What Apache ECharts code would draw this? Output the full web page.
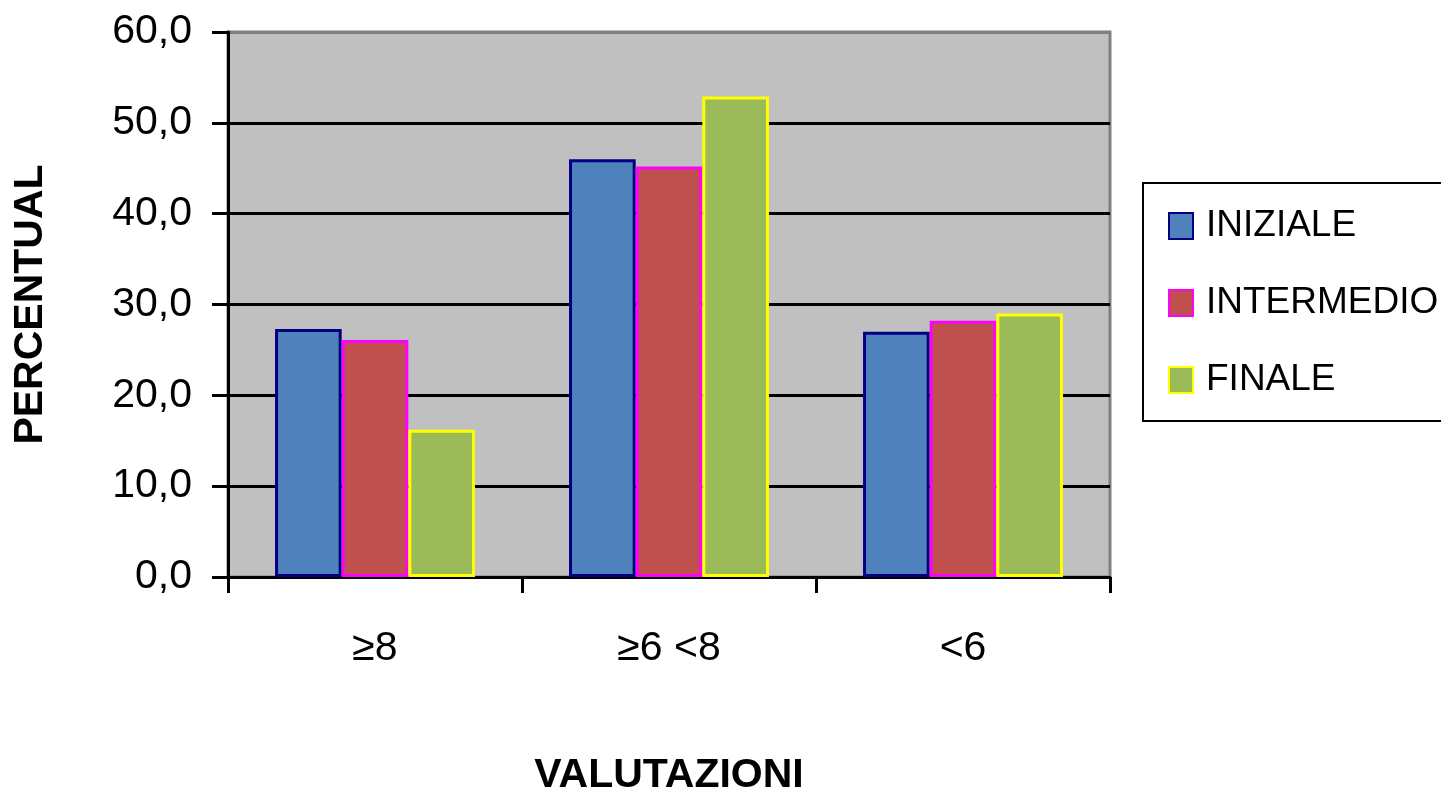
<!DOCTYPE html>
<html>
<head>
<meta charset="utf-8">
<script src="https://cdn.jsdelivr.net/npm/echarts@6/dist/echarts.min.js"></script>
<style>html,body{margin:0;padding:0;background:#fff;}#c{width:1441px;height:797px;}</style>
</head>
<body>
<div id="c"></div>
<script>
var categories = ['≥8', '≥6 <8', '<6'];
var seriesNames = ['INIZIALE', 'INTERMEDIO', 'FINALE'];
var iniziale = [27.3, 46.0, 27.0];
var intermedio = [26.1, 45.2, 28.2];
var finale = [16.2, 52.9, 29.0];
var yTicks = [0, 10, 20, 30, 40, 50, 60];

var fills = ['#4F81BD', '#C0504D', '#9BBB59'];
var borders = ['#000080', '#FF00FF', '#FFFF00'];
var values = [iniziale, intermedio, finale];
var font = '"Liberation Sans", Arial, sans-serif';

var chart = echarts.init(document.getElementById('c'));
chart.setOption({
  animation: false,
  backgroundColor: '#fff',
  grid: {
    left: 228, right: 331, top: 32, bottom: 220,
    containLabel: false,
    outerBoundsMode: 'none',
    show: true, backgroundColor: '#C0C0C0', borderColor: '#808080', borderWidth: 3
  },
  legend: {
    orient: 'vertical',
    left: 1143, top: 183,
    padding: [22, 60, 20, 25],
    itemWidth: 24, itemHeight: 26, itemGap: 35,
    borderColor: '#000', borderWidth: 2,
    backgroundColor: '#fff',
    icon: 'rect',
    textStyle: { fontFamily: font, fontSize: 37, lineHeight: 42, color: '#000', padding: [0, 0, 0, 8] },
    data: seriesNames
  },
  xAxis: {
    type: 'category',
    data: categories,
    name: 'VALUTAZIONI',
    nameLocation: 'middle',
    nameGap: 178,
    nameTextStyle: { fontFamily: font, fontSize: 41, fontWeight: 'bold', color: '#000' },
    axisLine: { lineStyle: { color: '#000', width: 3 } },
    axisTick: { show: true, length: 16, lineStyle: { color: '#000', width: 3 } },
    axisLabel: { fontFamily: font, fontSize: 41, color: '#000', margin: 51 }
  },
  yAxis: {
    type: 'value',
    min: 0, max: 60, interval: 10,
    name: 'PERCENTUAL',
    nameLocation: 'middle',
    nameGap: 177,
    nameTextStyle: { fontFamily: font, fontSize: 41, fontWeight: 'bold', color: '#000' },
    axisLine: { show: true, lineStyle: { color: '#000', width: 3 } },
    axisTick: { show: true, length: 16, lineStyle: { color: '#000', width: 3 } },
    axisLabel: {
      fontFamily: font, fontSize: 41, color: '#000', margin: 36,
      formatter: function (v) { return yTicks.indexOf(v) >= 0 ? v.toFixed(1).replace('.', ',') : ''; }
    },
    splitLine: { show: true, lineStyle: { color: ['#000', '#000', '#000', '#000', '#000', '#000', '#808080'], width: 3 } }
  },
  series: seriesNames.map(function (n, i) {
    return {
      name: n,
      type: 'bar',
      data: values[i],
      barGap: '0%',
      barCategoryGap: '32%',
      itemStyle: { color: fills[i], borderColor: borders[i], borderWidth: 3 }
    };
  })
});
</script>
</body>
</html>
